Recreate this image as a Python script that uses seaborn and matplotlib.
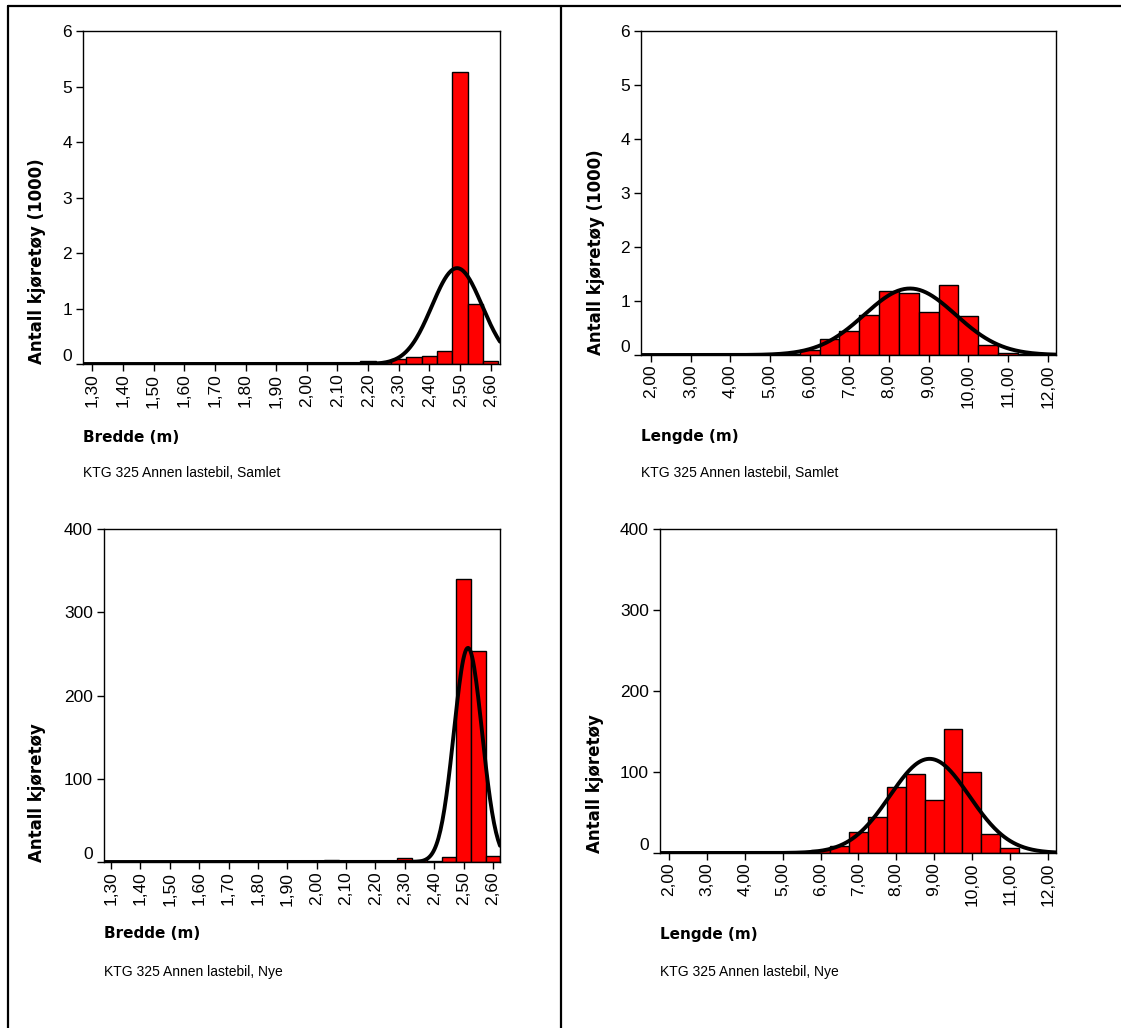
import numpy as np
import pandas as pd
import matplotlib
matplotlib.use("Agg")
import matplotlib.pyplot as plt
import matplotlib.transforms as mtransforms
from matplotlib import font_manager
from matplotlib.lines import Line2D
import seaborn as sns

# Bin centres (m) and counts
bredde_bins = [1.30, 1.35, 1.40, 1.45, 1.50, 1.55, 1.60, 1.65, 1.70, 1.75, 1.80, 1.85, 1.90, 1.95,
               2.00, 2.05, 2.10, 2.15, 2.20, 2.25, 2.30, 2.35, 2.40, 2.45, 2.50, 2.55, 2.60]
lengde_bins = [2.0, 2.5, 3.0, 3.5, 4.0, 4.5, 5.0, 5.5, 6.0, 6.5, 7.0, 7.5, 8.0, 8.5, 9.0, 9.5,
               10.0, 10.5, 11.0, 11.5, 12.0]

# Samlet (in 1000 vehicles)
bredde_samlet = [0, 0.002, 0, 0, 0.002, 0, 0.002, 0, 0.002, 0, 0.002, 0, 0.002, 0,
                 0.01, 0.01, 0.01, 0.01, 0.05, 0.03, 0.09, 0.12, 0.14, 0.24, 5.27, 1.08, 0.05]
lengde_samlet = [0, 0.005, 0, 0.003, 0.003, 0.005, 0.008, 0.02, 0.10, 0.30, 0.44, 0.74, 1.19,
                 1.15, 0.79, 1.30, 0.72, 0.19, 0.04, 0.01, 0.003]
# Nye (vehicles)
bredde_nye = [0, 0, 0, 0, 0, 0, 0, 0, 0, 0, 0, 0, 0, 0,
              0, 2, 0, 0, 1, 1, 5, 3, 1, 6, 340, 253, 7]
lengde_nye = [0, 1, 0, 0, 0, 0, 1, 1, 4, 9, 26, 44, 82, 97, 65, 153, 100, 23, 6, 0, 0]

# Normal curve fits (mean, sd, n) as drawn in the chart
fit_bredde_samlet = (2.49, 0.082, 7.1)
fit_lengde_samlet = (8.53, 1.15, 7.1)
fit_bredde_nye = (2.515, 0.048, 619)
fit_lengde_nye = (8.88, 1.05, 612)

bredde_ticks = [1.3, 1.4, 1.5, 1.6, 1.7, 1.8, 1.9, 2.0, 2.1, 2.2, 2.3, 2.4, 2.5, 2.6]
bredde_ticklabels = ["1,30", "1,40", "1,50", "1,60", "1,70", "1,80", "1,90",
                     "2,00", "2,10", "2,20", "2,30", "2,40", "2,50", "2,60"]
lengde_ticks = [2, 3, 4, 5, 6, 7, 8, 9, 10, 11, 12]
lengde_ticklabels = ["2,00", "3,00", "4,00", "5,00", "6,00", "7,00", "8,00",
                     "9,00", "10,00", "11,00", "12,00"]
samlet_yticks = [0, 1, 2, 3, 4, 5, 6]
nye_yticks = [0, 100, 200, 300, 400]

sns.set_style("ticks")
plt.rcParams["font.family"] = ["Liberation Sans", "DejaVu Sans"]
for k in ["text.color", "axes.labelcolor", "xtick.color", "ytick.color", "axes.edgecolor"]:
    plt.rcParams[k] = "black"

# the tick labels use a narrow face; fall back to normal width, smaller
try:
    font_manager.findfont("Liberation Sans Narrow", fallback_to_default=False)
    tick_font, tick_size = "Liberation Sans Narrow", 14
except ValueError:
    tick_font, tick_size = "Liberation Sans", 12.5

W, H = 1121, 1028
fig = plt.figure(figsize=(W / 100, H / 100), dpi=100)


def px_axes(l, t, r, b):
    return fig.add_axes([l / W, 1 - b / H, (r - l) / W, (b - t) / H])


def draw_panel(ax, bins, counts, bw, fit, xlim, ylim, xt, xtl, yt):
    df = pd.DataFrame({"x": bins, "n": counts})
    sns.histplot(data=df, x="x", weights="n", binwidth=bw,
                 binrange=(bins[0] - bw / 2, bins[-1] + bw / 2), color="#ff0000",
                 edgecolor="black", linewidth=1, alpha=1, ax=ax)
    mu, sd, n = fit
    xs = np.linspace(xlim[0], xlim[1], 400)
    ys = n * bw / (sd * np.sqrt(2 * np.pi)) * np.exp(-0.5 * ((xs - mu) / sd) ** 2)
    sns.lineplot(x=xs, y=ys, color="black", linewidth=2.8, ax=ax)
    ax.set_xlim(xlim)
    ax.set_ylim(ylim)
    ax.set_xticks(xt, xtl, family=tick_font, fontsize=tick_size)
    ax.set_yticks(yt, [str(v) for v in yt], family=tick_font, fontsize=tick_size)
    ax.set_xlabel("")
    ax.set_ylabel("")
    ax.tick_params(axis="x", labelrotation=90, length=5, width=1, pad=2,
                   color="black", direction="out")
    ax.tick_params(axis="y", length=5, width=1, pad=3,
                   color="black", direction="out")
    for s in ax.spines.values():
        s.set_visible(True)
        s.set_color("black")
        s.set_linewidth(1)
    # SPSS lifts the "0" label a little above the axis
    lbl = ax.get_yticklabels()[0]
    lbl.set_transform(lbl.get_transform() +
                      mtransforms.ScaledTranslation(0, 9 / 100, fig.dpi_scale_trans))


panels = [
    # axes box (l, t, r, b), ylabel x, label row y, data
    ((83, 31, 500, 364), 37.5, (437, 473), bredde_bins, bredde_samlet, 0.05, fit_bredde_samlet,
     (1.27, 2.63), (0, 6), bredde_ticks, bredde_ticklabels, samlet_yticks,
     "Antall kjøretøy (1000)", "Bredde (m)", "KTG 325 Annen lastebil, Samlet"),
    ((641, 31, 1056, 355), 596, (437, 473), lengde_bins, lengde_samlet, 0.5, fit_lengde_samlet,
     (1.75, 12.21), (0, 6), lengde_ticks, lengde_ticklabels, samlet_yticks,
     "Antall kjøretøy (1000)", "Lengde (m)", "KTG 325 Annen lastebil, Samlet"),
    ((104, 529, 500, 862), 37.5, (934, 972), bredde_bins, bredde_nye, 0.05, fit_bredde_nye,
     (1.276, 2.624), (0, 400), bredde_ticks, bredde_ticklabels, nye_yticks,
     "Antall kjøretøy", "Bredde (m)", "KTG 325 Annen lastebil, Nye"),
    ((660, 529, 1056, 853), 595, (934, 972), lengde_bins, lengde_nye, 0.5, fit_lengde_nye,
     (1.76, 12.22), (0, 400), lengde_ticks, lengde_ticklabels, nye_yticks,
     "Antall kjøretøy", "Lengde (m)", "KTG 325 Annen lastebil, Nye"),
]

for (box, ylx, (xly, capy), bins, counts, bw, fit, xlim, ylim, xt, xtl, yt,
     ylab, xlab, cap) in panels:
    ax = px_axes(*box)
    draw_panel(ax, bins, counts, bw, fit, xlim, ylim, xt, xtl, yt)
    l, t, r, b = box
    fig.text(ylx / W, 1 - b / H, ylab, rotation=90, ha="center", va="bottom",
             fontsize=12, fontweight="bold", family="DejaVu Sans")
    fig.text(l / W, 1 - xly / H, xlab, ha="left", va="center",
             fontsize=11, fontweight="bold", family="DejaVu Sans")
    fig.text(l / W, 1 - capy / H, cap, ha="left", va="center", fontsize=10)

# outer frame lines
for (x0, y0, x1, y1) in [(8, 6, W, 6), (8, 6, 8, H), (560.5, 6, 560.5, H)]:
    fig.add_artist(Line2D([x0 / W, x1 / W], [1 - y0 / H, 1 - y1 / H],
                          transform=fig.transFigure, color="black", linewidth=1.6))

fig.savefig("out.png", dpi=100)
